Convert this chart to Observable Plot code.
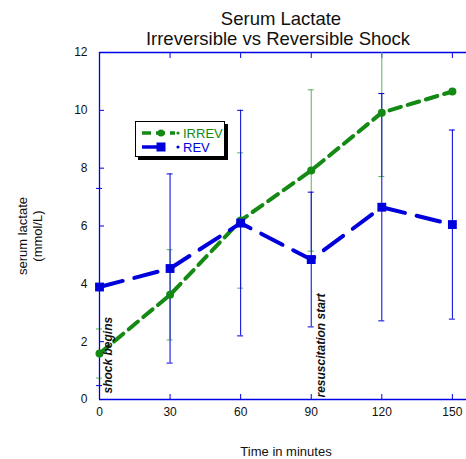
<!DOCTYPE html>
<html><head><meta charset="utf-8">
<script src="https://cdn.jsdelivr.net/npm/d3@7"></script>
<script src="https://cdn.jsdelivr.net/npm/@observablehq/plot@0.6"></script>
<style>
body{margin:0;background:#fff;font-family:"Liberation Sans",Arial,sans-serif}
#wrap{position:relative;width:466px;height:459px}
#legend{position:absolute;left:135px;top:121px;width:88px;height:34px;border:1.5px solid #000;background:#fff;box-shadow:3px 3px 0 #000;font-size:13px;}
#legend svg{position:absolute;left:0;top:0}
</style></head><body><div id="wrap"></div>
<script>
const times = [0, 30, 60, 90, 120, 150];
const irrevMean = [1.59, 3.62, 6.19, 7.92, 9.92, 10.65];
const irrevSD = [0.85, 1.56, 2.34, 2.79, 2.21, null];
const revMean = [3.89, 4.53, 6.10, 4.84, 6.65, 6.05];
const revSD = [3.41, 3.27, 3.90, 2.33, 3.93, 3.27];
const xTicks = [0, 30, 60, 90, 120, 150];
const yTicks = [0, 2, 4, 6, 8, 10, 12];
const titleLines = ["Serum Lactate", "Irreversible vs Reversible Shock"];
const yLabelLines = ["serum lactate", "(mmol/L)"];
const xLabel = "Time in minutes";
const annotations = [{t: 0, text: "shock begins"}, {t: 90, text: "resuscitation start"}];
const seriesNames = ["IRREV", "REV"];

const GREEN = "#148a14", GREEN_BAR = "#5cb35c", BLUE = "#0000dc", AXIS = "#0000e6";
const irrev = times.map((t, i) => ({t, mean: irrevMean[i], sd: irrevSD[i]}));
const rev = times.map((t, i) => ({t, mean: revMean[i], sd: revSD[i]}));
const YMAX = 12;

function errorBars(rows, stroke) {
  const r = rows.filter(d => d.sd != null);
  const caps = r.flatMap(d => [d.mean - d.sd, d.mean + d.sd].map(v => ({t: d.t, v}))).filter(c => c.v <= YMAX);
  return [
    Plot.ruleX(r, {x: "t", y1: d => d.mean - d.sd, y2: d => d.mean + d.sd, stroke, strokeWidth: 1, clip: true}),
    Plot.ruleY(caps, {y: "v", x1: "t", x2: "t", insetLeft: -3, insetRight: -3, stroke, strokeWidth: 1})
  ];
}

const font = "Liberation Sans, Arial, sans-serif";
const txt = {fill: "#111", lineAnchor: "middle", textAnchor: "middle"};
const chart = Plot.plot({
  width: 466, height: 459,
  marginTop: 52, marginBottom: 60, marginLeft: 99, marginRight: 0,
  x: {domain: [0, 156]},
  y: {domain: [0, 12]},
  style: {fontFamily: font, background: "#fff", overflow: "visible"},
  marks: [
    Plot.ruleY([0, 12], {stroke: AXIS, strokeWidth: 1.3}),
    Plot.ruleX([0], {stroke: AXIS, strokeWidth: 1.3}),
    Plot.axisX(xTicks, {anchor: "bottom", tickSize: -5, tickPadding: 13, stroke: AXIS, fill: "#111", fontSize: 12, label: null}),
    Plot.axisX(xTicks, {anchor: "top", tickSize: -5, tickFormat: () => "", stroke: AXIS, label: null}),
    Plot.axisY(yTicks, {anchor: "left", tickSize: -5, tickPadding: 17, stroke: AXIS, fill: "#111", fontSize: 12, label: null}),
    ...errorBars(irrev, GREEN_BAR),
    ...errorBars(rev, BLUE),
    Plot.line(irrev, {x: "t", y: "mean", stroke: GREEN, strokeWidth: 4, strokeDasharray: "12,7"}),
    Plot.dot(irrev, {x: "t", y: "mean", r: 4, fill: GREEN}),
    Plot.line(rev, {x: "t", y: "mean", stroke: BLUE, strokeWidth: 4, strokeDasharray: "24,12"}),
    Plot.dot(rev, {x: "t", y: "mean", r: 5, symbol: "square", fill: BLUE}),
    Plot.text([annotations[0]], {x: "t", text: "text", frameAnchor: "bottom", rotate: -90, textAnchor: "start", lineAnchor: "middle", dx: 8.5, dy: -6, fontWeight: "bold", fontStyle: "italic", fontSize: 12, fill: "#111"}),
    Plot.text([annotations[1]], {x: "t", text: "text", frameAnchor: "bottom", rotate: -90, textAnchor: "start", lineAnchor: "middle", dx: 10, dy: -2, fontWeight: "bold", fontStyle: "italic", fontSize: 12, fill: "#111"}),
    Plot.text([titleLines[0]], {...txt, frameAnchor: "top", dy: -33, dx: -2, fontSize: 18.5}),
    Plot.text([titleLines[1]], {...txt, frameAnchor: "top", dy: -13.5, dx: -5, fontSize: 18.5}),
    Plot.text([yLabelLines[0]], {...txt, frameAnchor: "left", dx: -77, dy: 10, rotate: -90, fontSize: 13}),
    Plot.text([yLabelLines[1]], {...txt, frameAnchor: "left", dx: -62, dy: 10, rotate: -90, fontSize: 13}),
    Plot.text([xLabel], {...txt, frameAnchor: "bottom", dy: 52, dx: 3, fontSize: 13})
  ]
});
const wrap = document.getElementById("wrap");
wrap.appendChild(chart);

// Legend
const legend = document.createElement("div");
legend.id = "legend";
legend.innerHTML = `<svg width="88" height="34">
  <line x1="6" x2="39" y1="11" y2="11" stroke="${GREEN}" stroke-width="3.5" stroke-dasharray="9,5"/>
  <circle cx="25" cy="11" r="3.5" fill="${GREEN}"/>
  <circle cx="42" cy="11" r="1.6" fill="${GREEN}"/>
  <text x="47" y="15.5" fill="${GREEN}" font-size="13" font-family="${font}">${seriesNames[0]}</text>
  <line x1="6" x2="26" y1="25" y2="25" stroke="${BLUE}" stroke-width="3.5"/>
  <rect x="20.5" y="20.5" width="9" height="9" fill="${BLUE}"/>
  <circle cx="42" cy="25" r="1.6" fill="${BLUE}"/>
  <text x="47" y="29.5" fill="${BLUE}" font-size="13" font-family="${font}">${seriesNames[1]}</text>
</svg>`;
wrap.appendChild(legend);
</script>
</body></html>
